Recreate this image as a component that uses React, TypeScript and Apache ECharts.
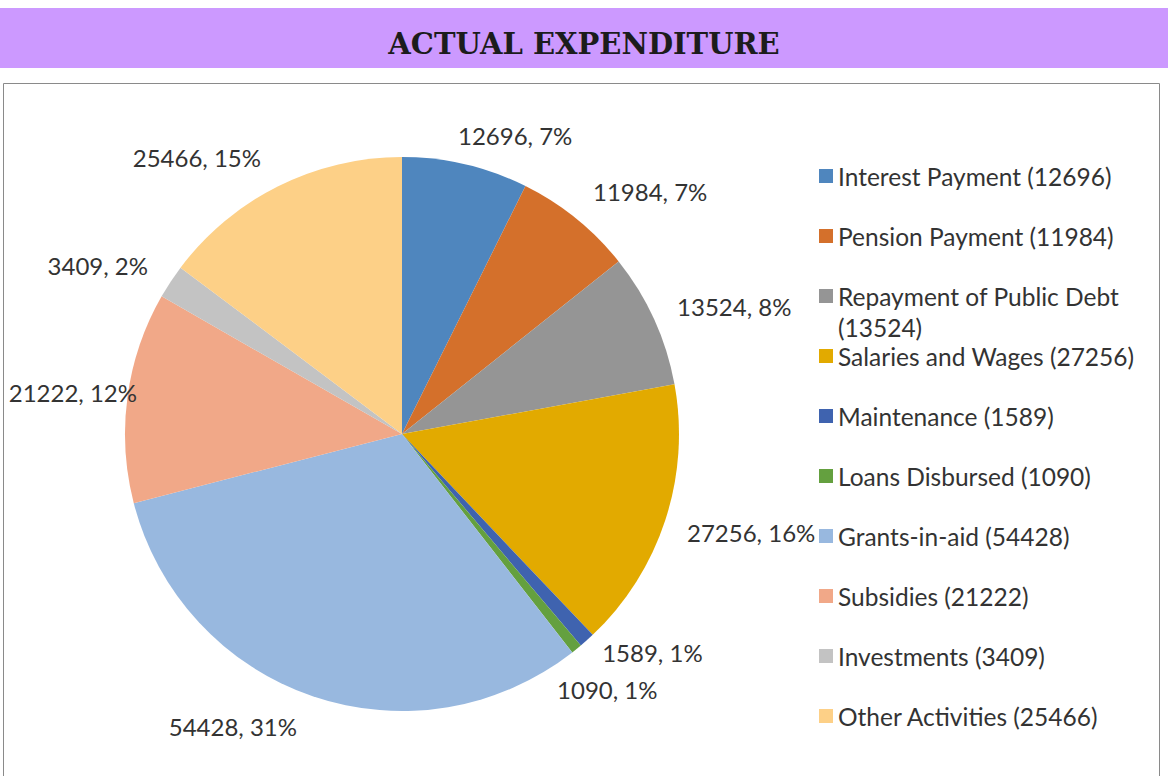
import React, { useEffect, useRef } from "react";
import * as echarts from "echarts";

const categories = [
  "Interest Payment",
  "Pension Payment",
  "Repayment of Public Debt",
  "Salaries and Wages",
  "Maintenance",
  "Loans Disbursed",
  "Grants-in-aid",
  "Subsidies",
  "Investments",
  "Other Activities",
];
const values = [12696, 11984, 13524, 27256, 1589, 1090, 54428, 21222, 3409, 25466];
const colors = [
  "#4F86BE",
  "#D4702B",
  "#959595",
  "#E2AA00",
  "#3F63AF",
  "#64A03F",
  "#98B8DF",
  "#F1A888",
  "#C3C3C3",
  "#FDD087",
];
// layout: radial distance of each data label from the pie edge, and horizontal offset
const labelRadial = [30, 35.5, 30, 39, 17, 51.5, 32.5, 36.4, 30.4, 32.6];
const labelHorizontal = [-17.3, -8.5, -7.4, -18.4, 1, -55, 2.2, -48.6, -5.8, -0.4];
// layout: legend item centre rows
const legendRows = [176, 236, 296, 356, 416, 476, 536, 596, 656, 716];

export default function App() {
  const ref = useRef<HTMLDivElement>(null);
  useEffect(() => {
    if (!ref.current) return;
    const chart = echarts.init(ref.current, undefined, { renderer: "svg" });
    const font = "Lato, 'Open Sans', sans-serif";
    const textColor = "#333333";
    const legends = categories.map((name, i) => {
      const twoLine = name === "Repayment of Public Debt";
      return {
        orient: "vertical",
        left: 819,
        top: twoLine ? legendRows[i] - 46.5 : legendRows[i] - 15,
        padding: 0,
        itemWidth: 14,
        itemHeight: 14,
        icon: "rect",
        selectedMode: false,
        data: [name],
        formatter: (n: string) => {
          const v = values[categories.indexOf(n)];
          return twoLine ? `\n${n}\n(${v})` : `${n} (${v})`;
        },
        textStyle: {
          fontFamily: font,
          fontSize: 24.5,
          color: textColor,
          lineHeight: twoLine ? 31 : 30,
        },
      };
    });
    chart.setOption({
      animation: false,
      color: colors,
      title: {
        text: "ACTUAL EXPENDITURE",
        left: "center",
        top: 25,
        padding: 0,
        textStyle: {
          fontFamily: "'DejaVu Serif', serif",
          fontWeight: "bold",
          fontSize: 29,
          lineHeight: 38,
          color: "#1c1c1c",
        },
      },
      graphic: [
        {
          type: "rect",
          z: -10,
          shape: { x: 0, y: 8, width: 1168, height: 60 },
          style: { fill: "#CC99FF" },
        },
        {
          type: "rect",
          z: -10,
          shape: { x: 3.5, y: 83.5, width: 1156, height: 720 },
          style: { fill: "none", stroke: "#8a8a8a", lineWidth: 1 },
        },
      ],
      legend: legends,
      series: [
        {
          type: "pie",
          center: [402, 434],
          radius: 277,
          startAngle: 90,
          clockwise: true,
          percentPrecision: 0,
          avoidLabelOverlap: false,
          data: categories.map((name, i) => ({
            name,
            value: values[i],
            labelLine: { length: labelRadial[i], length2: labelHorizontal[i] },
          })),
          itemStyle: { borderWidth: 0 },
          label: {
            show: true,
            position: "outside",
            formatter: "{c}, {d}%",
            fontFamily: font,
            fontSize: 24,
            color: textColor,
            distanceToLabelLine: 3,
          },
          labelLine: { show: false },
          emphasis: { disabled: true },
        },
      ],
    });
    return () => chart.dispose();
  }, []);
  return (
    <div
      ref={ref}
      style={{ position: "fixed", left: 0, top: 0, width: 1168, height: 776, background: "#fff" }}
    />
  );
}
